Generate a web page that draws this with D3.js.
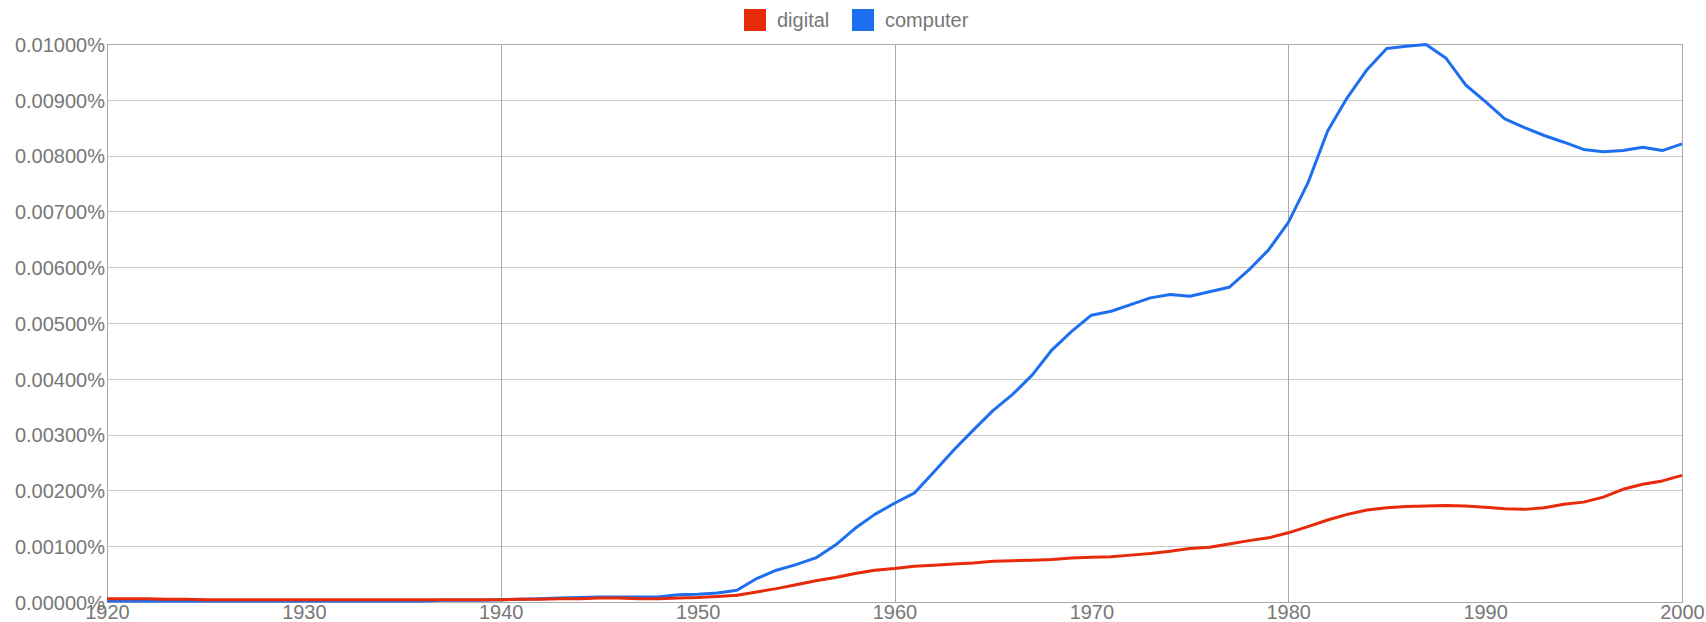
<!DOCTYPE html>
<html>
<head>
<meta charset="utf-8">
<script src="https://cdn.jsdelivr.net/npm/d3@7"></script>
<style>
  body { margin: 0; background: #fff; }
  svg { display: block; font-family: "Liberation Sans", Arial, sans-serif; }
  .tick text { fill: #777; font-size: 20px; }
</style>
</head>
<body>
<svg id="chart" width="1706" height="622"></svg>
<script>
// values are in percent (0.00999 means 0.00999%)
const years = d3.range(1920, 2001);

const digital = [
    0.00006, 0.00006, 0.00006, 0.00005, 0.00005, 0.00004, 0.00004, 0.00004, 0.00004, 0.00004,
    0.00004, 0.00004, 0.00004, 0.00004, 0.00004, 0.00004, 0.00004, 0.00004, 0.00004, 0.00004,
    0.00004, 0.00005, 0.00005, 0.00006, 0.00006, 0.00007, 0.00007, 0.00006, 0.00006, 0.00007,
    0.00008, 0.00010, 0.00012, 0.00018, 0.00024, 0.00031, 0.00038, 0.00044, 0.00051, 0.00057,
    0.00060, 0.00064, 0.00066, 0.00068, 0.00070, 0.00073, 0.00074, 0.00075, 0.00076, 0.00079,
    0.00080, 0.00081, 0.00084, 0.00087, 0.00091, 0.00096, 0.00098, 0.00104, 0.00110, 0.00115,
    0.00124, 0.00135, 0.00147, 0.00157, 0.00165, 0.00169, 0.00171, 0.00172, 0.00173, 0.00172,
    0.00170, 0.00167, 0.00166, 0.00169, 0.00175, 0.00179, 0.00188, 0.00202, 0.00211, 0.00217,
    0.00227
];

const computer = [
    0.00002, 0.00002, 0.00002, 0.00002, 0.00002, 0.00002, 0.00002, 0.00002, 0.00002, 0.00002,
    0.00002, 0.00002, 0.00002, 0.00002, 0.00002, 0.00002, 0.00002, 0.00003, 0.00003, 0.00003,
    0.00004, 0.00005, 0.00006, 0.00007, 0.00008, 0.00009, 0.00009, 0.00009, 0.00009, 0.00013,
    0.00014, 0.00016, 0.00021, 0.00042, 0.00057, 0.00067, 0.00079, 0.00102, 0.00132, 0.00157,
    0.00177, 0.00195, 0.00233, 0.00272, 0.00308, 0.00343, 0.00372, 0.00407, 0.00452, 0.00485,
    0.00514, 0.00521, 0.00533, 0.00545, 0.00551, 0.00548, 0.00556, 0.00564, 0.00595, 0.00631,
    0.00680, 0.00751, 0.00844, 0.00904, 0.00954, 0.00992, 0.00996, 0.00999, 0.00975, 0.00927,
    0.00897, 0.00866, 0.00850, 0.00836, 0.00824, 0.00811, 0.00807, 0.00809, 0.00815, 0.00809,
    0.00821
];

const seriesNames = ['digital', 'computer'];
const seriesColors = ['#e62a0a', '#1e6ff0'];

const yTicks = d3.range(0, 11).map(i => i * 0.001);
const xLabelTicks = d3.range(1920, 2001, 10);
const xGridTicks = [1940, 1960, 1980];

const margin = {top: 44, right: 24, bottom: 20, left: 107};
const width = 1706, height = 622;

const svg = d3.select('#chart');

const x = d3.scaleLinear()
    .domain([1920, 2000])
    .range([margin.left, width - margin.right]);

const y = d3.scaleLinear()
    .domain([0, 0.01])
    .range([height - margin.bottom, margin.top]);

// horizontal grid
svg.append('g')
    .selectAll('line')
    .data(yTicks)
    .enter().append('line')
    .attr('x1', x(1920)).attr('x2', x(2000))
    .attr('y1', d => Math.round(y(d)) + 0.5)
    .attr('y2', d => Math.round(y(d)) + 0.5)
    .attr('stroke', '#cacaca');

// vertical grid every 20 years
svg.append('g')
    .selectAll('line')
    .data(xGridTicks)
    .enter().append('line')
    .attr('x1', d => Math.round(x(d)) + 0.5)
    .attr('x2', d => Math.round(x(d)) + 0.5)
    .attr('y1', y(0.01)).attr('y2', y(0))
    .attr('stroke', '#aaa');

// frame
svg.append('rect')
    .attr('x', Math.round(x(1920)) + 0.5)
    .attr('y', Math.round(y(0.01)) + 0.5)
    .attr('width', Math.round(x(2000)) - Math.round(x(1920)))
    .attr('height', Math.round(y(0)) - Math.round(y(0.01)))
    .attr('fill', 'none')
    .attr('stroke', '#aaa');

// axes (labels only)
const yAxis = svg.append('g')
    .attr('transform', `translate(${margin.left - 2},0)`)
    .call(d3.axisLeft(y).tickValues(yTicks).tickSize(0).tickPadding(0)
        .tickFormat(d => d.toFixed(5) + '%'));
yAxis.select('.domain').remove();
yAxis.selectAll('text').attr('dy', '0.36em');

const xAxis = svg.append('g')
    .attr('transform', `translate(0,${height - margin.bottom})`)
    .call(d3.axisBottom(x).tickValues(xLabelTicks).tickSize(0).tickPadding(0)
        .tickFormat(d3.format('d')));
xAxis.select('.domain').remove();
xAxis.selectAll('text').attr('y', 0).attr('dy', '0.87em');

// lines
const line = d3.line()
    .x((d, i) => x(years[i]))
    .y(d => y(d));

const plotted = [
    {name: 'computer', values: computer, color: seriesColors[1]},
    {name: 'digital', values: digital, color: seriesColors[0]}
];

svg.append('g')
    .selectAll('path')
    .data(plotted)
    .enter().append('path')
    .attr('d', d => line(d.values))
    .attr('fill', 'none')
    .attr('stroke', d => d.color)
    .attr('stroke-width', 3)
    .attr('stroke-linejoin', 'round');

// legend
const legend = svg.append('g').attr('transform', 'translate(744,9)');
const legendOffsets = [0, 108];
const items = legend.selectAll('g')
    .data(seriesNames)
    .enter().append('g')
    .attr('transform', (d, i) => `translate(${legendOffsets[i]},0)`);
items.append('rect')
    .attr('width', 22).attr('height', 22)
    .attr('fill', (d, i) => seriesColors[i]);
items.append('text')
    .attr('x', 33).attr('y', 18)
    .attr('fill', '#777')
    .style('font-size', '20px')
    .text(d => d);
</script>
</body>
</html>
